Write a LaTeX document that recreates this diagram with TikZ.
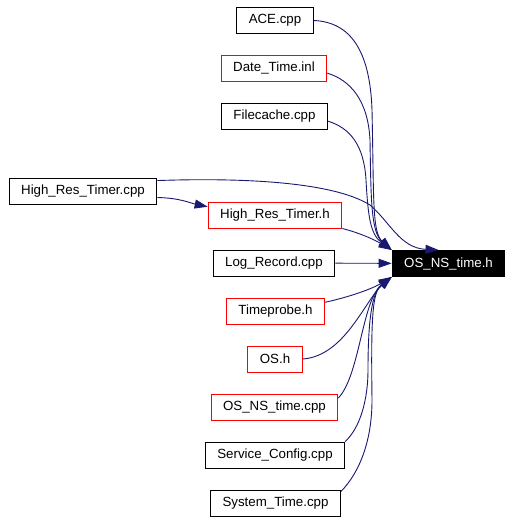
\documentclass[tikz,border=0pt]{standalone}
\usepackage{fontspec}
\setmainfont{Liberation Sans}
\usepackage{tikz}
\usetikzlibrary{arrows.meta}
\definecolor{midnightblue}{HTML}{191970}

\begin{document}
\begin{tikzpicture}[x=1pt, y=-1pt,
  file/.style={draw=black, fill=white, line width=1pt, minimum height=26pt, inner xsep=12pt, font=\fontsize{13.3}{16}\selectfont},
  redfile/.style={file, draw=red},
  current/.style={file, fill=black, text=white},
  dep/.style={->, draw=midnightblue, line width=0.9pt},
  >={Triangle[length=13pt, width=9pt]}]
\useasboundingbox (0,0) rectangle (511,522);
\node[file] (ace) at (275,20.5) {ACE.cpp};
\node[redfile] (datetime) at (274,68.5) {Date\_Time.inl};
\node[file] (filecache) at (274.5,116.5) {Filecache.cpp};
\node[file] (hrcpp) at (83,191) {High\_Res\_Timer.cpp};
\node[redfile] (hrh) at (275,215) {High\_Res\_Timer.h};
\node[file] (logrecord) at (274,263) {Log\_Record.cpp};
\node[current] (ostime) at (448.5,263.5) {OS\_NS\_time.h};
\node[redfile] (timeprobe) at (275.5,311) {Timeprobe.h};
\node[redfile] (osh) at (275,359) {OS.h};
\node[redfile] (oscpp) at (274.5,407) {OS\_NS\_time.cpp};
\node[file] (svc) at (275,455) {Service\_Config.cpp};
\node[file] (systime) at (275.5,503) {System\_Time.cpp};
\draw[dep] (ace.east) .. controls (350,22) and (370,50) .. (372,110) .. controls (374,200) and (372,232) .. (ostime.north west);
\draw[dep] (datetime.-5) .. controls (350,80) and (368,100) .. (370,140) .. controls (371,200) and (371,232) .. (ostime.north west);
\draw[dep] (filecache.-5) .. controls (350,128) and (364,145) .. (366,180) .. controls (368,215) and (370,234) .. (ostime.north west);
\draw[dep] (hrcpp.8) .. controls (230,178) and (330,180) .. (370,205) .. controls (390,222) and (400,248) .. ([xshift=-10pt]ostime.north);
\draw[dep] (hrcpp.-5) .. controls (180,198) and (190,203) .. (hrh.173);
\draw[dep] (hrh.south east) .. controls (360,233) and (375,240) .. (ostime.north west);
\draw[dep] (logrecord) -- (ostime);
\draw[dep] (timeprobe.10) .. controls (345,298) and (370,290) .. (ostime.south west);
\draw[dep] (osh.east) .. controls (345,356) and (365,300) .. (ostime.south west);
\draw[dep] (oscpp.8) .. controls (360,375) and (362,300) .. (ostime.south west);
\draw[dep] (svc.north east) .. controls (360,428) and (368,400) .. (368,370) .. controls (368,320) and (372,292) .. (ostime.south west);
\draw[dep] (systime.10) .. controls (360,472) and (372,440) .. (372,400) .. controls (371,320) and (372,292) .. (ostime.south west);
\end{tikzpicture}
\end{document}
